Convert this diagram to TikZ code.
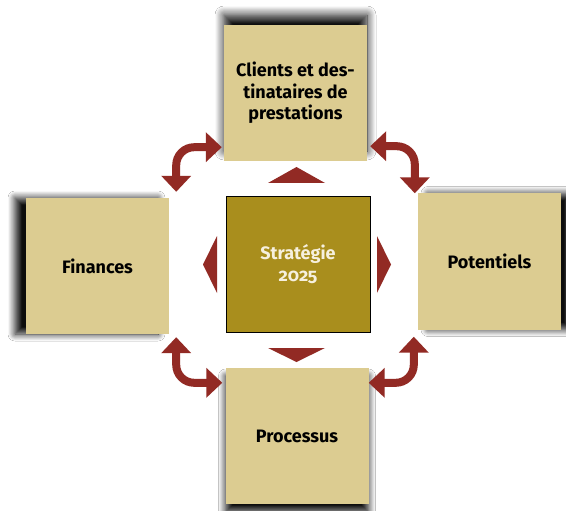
\documentclass[tikz,border=0pt]{standalone}
\usepackage{fontspec}
\setmainfont{Fira Sans}[Numbers=OldStyle, BoldFeatures={Numbers=OldStyle}]
\usetikzlibrary{arrows.meta,calc,shadows.blur}

\definecolor{sable}{RGB}{220,204,145}
\definecolor{ocre}{RGB}{169,142,29}
\definecolor{brique}{RGB}{146,42,36}
\definecolor{creme}{RGB}{246,240,222}

\begin{document}
\begin{tikzpicture}[x=1pt, y=-1pt]
 \tikzstyle{pilier}=[rectangle, fill=sable, text=black, align=center, inner sep=0pt,
   minimum width=143, minimum height=136, font=\bfseries\fontsize{18}{21.5}\selectfont]
 \tikzstyle{noyau}=[pilier, fill=ocre, draw=black, thin, text=creme, minimum width=144]
 \tikzstyle{fleche}=[{Triangle[width=29pt,length=16pt]}-{Triangle[width=29pt,length=16pt]},
   line width=8pt, brique, rounded corners=18pt]
 \tikzstyle{ombreN}=[blur shadow={shadow xshift=0pt, shadow yshift=10pt, shadow blur radius=9pt, shadow blur steps=12, shadow opacity=95}]
 \tikzstyle{ombreS}=[blur shadow={shadow xshift=0pt, shadow yshift=-8pt, shadow blur radius=7pt, shadow blur steps=12, shadow opacity=95}]
 \tikzstyle{ombreW}=[blur shadow={shadow xshift=-11pt, shadow yshift=0pt, shadow blur radius=7pt, shadow blur steps=12, shadow opacity=95}]
 \tikzstyle{ombreE}=[blur shadow={shadow xshift=10pt, shadow yshift=0pt, shadow blur radius=7pt, shadow blur steps=12, shadow opacity=95}]
 %
 \fill[white] (0,0) rectangle (566,511);
 \useasboundingbox (0,0) rectangle (566,511);
 %
 \node[pilier, ombreN] (clients) at (295.5, 93) {Clients et des-\\tinataires de\\prestations};
 \node[pilier, ombreW] (finances) at (97.5, 266) {Finances};
 \node[pilier, ombreE] (potentiels) at (489.5, 261.5) {Potentiels};
 \node[pilier, ombreS] (processus) at (297, 436) {Processus};
 \node[noyau] (strategie) at (298, 264) {Stratégie\\\addfontfeature{Numbers=OldStyle}2025};
 %
 % pointes autour du noyau
 \fill[brique] (268,183) -- (296.5,167) -- (325,183) -- cycle;
 \fill[brique] (268,348) -- (296.5,362) -- (325,348) -- cycle;
 \fill[brique] (217,236) -- (203,264.5) -- (217,293) -- cycle;
 \fill[brique] (377,236) -- (391,264.5) -- (377,293) -- cycle;
 %
 % extremites des fleches courbes
 \coordinate (nwA) at ($(clients.south west)+(-2,-14)$);
 \coordinate (nwB) at ($(finances.north east)+(7,-6)$);
 \coordinate (neA) at ($(clients.south east)+(3,-15)$);
 \coordinate (neB) at ($(potentiels.north west)+(-3,0)$);
 \coordinate (swA) at ($(finances.south east)+(7,3)$);
 \coordinate (swB) at ($(processus.north west)+(-3,15)$);
 \coordinate (seA) at ($(potentiels.south west)+(-4,7)$);
 \coordinate (seB) at ($(processus.north east)+(0,15)$);
 %%
 \draw[fleche] (nwB) |- (nwA);
 \draw[fleche] (neA) -| (neB);
 \draw[fleche] (swA) |- (swB);
 \draw[fleche] (seA) |- (seB);
\end{tikzpicture}
\end{document}
